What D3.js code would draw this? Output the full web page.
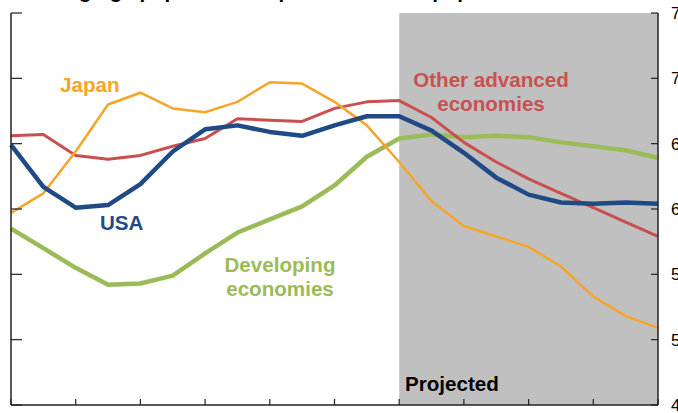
<!DOCTYPE html>
<html>
<head>
<meta charset="utf-8">
<script src="https://cdn.jsdelivr.net/npm/d3@7"></script>
<style>
  body { margin: 0; background: #fff; }
  svg { display: block; font-family: "Liberation Sans", Arial, sans-serif; }
  .label { font-weight: bold; font-size: 20.6px; }
</style>
</head>
<body>
<svg id="chart" width="678" height="413"></svg>
<script>
// years, one point every 5 years; projection starts 2010
const years = d3.range(1950, 2051, 5);
const yTicks = [45, 50, 55, 60, 65, 70, 75];
const xTicks = d3.range(1950, 2051, 10);
const projectedFrom = 2010;

const japan = [59.7, 61.2, 64.4, 68.0, 68.9, 67.7, 67.4, 68.2, 69.7, 69.6, 68.2, 66.4, 63.6, 60.6, 58.7, 57.9, 57.1, 55.6, 53.3, 51.8, 50.9];
const usa = [64.9, 61.7, 60.1, 60.3, 61.9, 64.4, 66.1, 66.4, 65.9, 65.6, 66.4, 67.1, 67.1, 66.0, 64.3, 62.4, 61.1, 60.5, 60.4, 60.5, 60.4];
const otherAdvanced = [65.6, 65.7, 64.1, 63.8, 64.1, 64.8, 65.4, 66.9, 66.8, 66.7, 67.7, 68.2, 68.3, 67.0, 65.1, 63.6, 62.3, 61.2, 60.1, 59.0, 57.9];
const developing = [58.5, 57.0, 55.5, 54.2, 54.3, 54.9, 56.6, 58.2, 59.2, 60.2, 61.8, 64.0, 65.4, 65.7, 65.5, 65.6, 65.5, 65.1, 64.8, 64.5, 63.9];

const svg = d3.select("#chart");
const x = d3.scaleLinear().domain([1950, 2050]).range([11, 658]);
const y = d3.scaleLinear().domain([45, 75]).range([405, 13]);

// title, mostly cropped off at the top
svg.append("text")
  .attr("x", 10)
  .attr("y", -2)
  .attr("font-size", "20.5px")
  .attr("font-weight", "bold")
  .attr("fill", "#000")
  .text("Working-age population as percent of total population");

// projected shading
svg.append("rect")
  .attr("x", x(projectedFrom))
  .attr("y", y(75))
  .attr("width", x(2050) - x(projectedFrom))
  .attr("height", y(45) - y(75))
  .attr("fill", "#c0c0c0");

const line = d3.line()
  .x((d, i) => x(years[i]))
  .y((d) => y(d));

const series = [
  { values: developing, color: "#9bbb59", width: 4.5 },
  { values: otherAdvanced, color: "#c9504f", width: 3 },
  { values: japan, color: "#f6a52b", width: 2.5 },
  { values: usa, color: "#1f4a86", width: 4.5 }
];

svg.selectAll("path.series")
  .data(series)
  .enter()
  .append("path")
  .attr("class", "series")
  .attr("fill", "none")
  .attr("stroke", (d) => d.color)
  .attr("stroke-width", (d) => d.width)
  .attr("stroke-linejoin", "round")
  .attr("d", (d) => line(d.values));

// axes
const axisColor = "#222";
svg.append("line")
  .attr("x1", x(1950)).attr("x2", x(1950))
  .attr("y1", y(75)).attr("y2", y(45))
  .attr("stroke", axisColor).attr("stroke-width", 1.5);
svg.append("line")
  .attr("x1", x(2050)).attr("x2", x(2050))
  .attr("y1", y(75)).attr("y2", y(45))
  .attr("stroke", axisColor).attr("stroke-width", 1.5);
svg.append("line")
  .attr("x1", x(1950)).attr("x2", x(2050))
  .attr("y1", y(45)).attr("y2", y(45))
  .attr("stroke", axisColor).attr("stroke-width", 1.5);

svg.selectAll("line.ltick")
  .data(yTicks)
  .enter()
  .append("line")
  .attr("class", "ltick")
  .attr("x1", x(1950)).attr("x2", x(1950) + 11)
  .attr("y1", (d) => y(d)).attr("y2", (d) => y(d))
  .attr("stroke", axisColor).attr("stroke-width", 1.2);

svg.selectAll("line.rtick")
  .data(yTicks)
  .enter()
  .append("line")
  .attr("class", "rtick")
  .attr("x1", x(2050) - 7).attr("x2", x(2050))
  .attr("y1", (d) => y(d)).attr("y2", (d) => y(d))
  .attr("stroke", axisColor).attr("stroke-width", 1.2);

svg.selectAll("line.xtick")
  .data(xTicks)
  .enter()
  .append("line")
  .attr("class", "xtick")
  .attr("x1", (d) => x(d)).attr("x2", (d) => x(d))
  .attr("y1", y(45) - 6).attr("y2", y(45))
  .attr("stroke", axisColor).attr("stroke-width", 1.2);

svg.selectAll("text.rlabel")
  .data(yTicks)
  .enter()
  .append("text")
  .attr("class", "rlabel")
  .attr("x", 671)
  .attr("y", (d) => y(d))
  .attr("dy", "0.35em")
  .attr("font-size", "17px")
  .attr("fill", "#000")
  .text((d) => d);

// series labels
function label(lines, cx, cy, color, anchor) {
  const t = svg.append("text")
    .attr("class", "label")
    .attr("fill", color)
    .attr("text-anchor", anchor);
  lines.forEach((s, i) => {
    t.append("tspan").attr("x", cx).attr("y", cy + i * 24).text(s);
  });
}
label(["Japan"], 60, 92, "#f6a52b", "start");
label(["USA"], 100, 230, "#1f4a86", "start");
label(["Developing", "economies"], 280, 272, "#9bbb59", "middle");
label(["Other advanced", "economies"], 491, 87, "#c9504f", "middle");
label(["Projected"], 405, 391, "#000", "start");
</script>
</body>
</html>
